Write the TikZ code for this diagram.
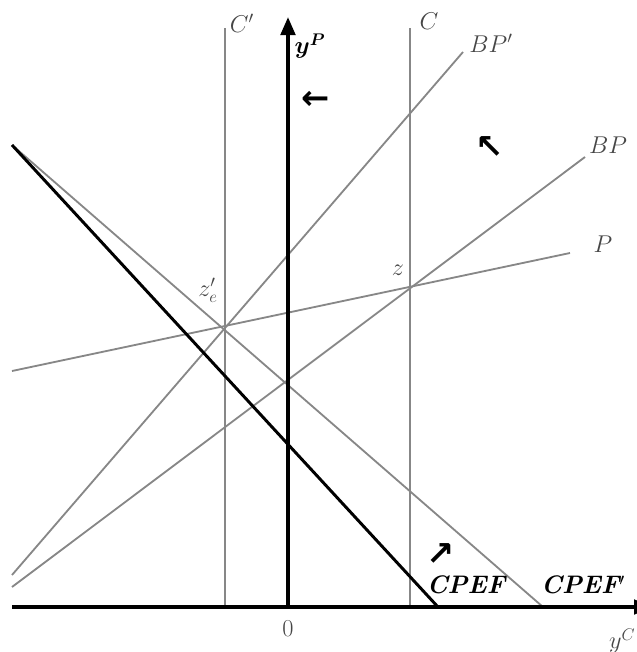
\documentclass[tikz,border=0pt]{standalone}
\usepackage{amsmath}
\usepackage{bm}
\usepackage{fontspec}
\newfontfamily\arrowfont{DejaVu Sans}
\usetikzlibrary{positioning, calc, arrows.meta}
\definecolor{clLine}  {RGB}{135,135,135}
\definecolor{clText}  {RGB}{ 70, 70, 70}
\definecolor{clAxis}  {RGB}{  0,  0,  0}
\tikzset{
  %% thin grey schedule
  curve/.style={draw=clLine, line width=1.3pt},
  %% axes
  axis/.style={
    draw=clAxis, line width=2.6pt,
    -{Triangle[length=0.45cm, width=0.36cm]}
  },
  %% consumption-possibility frontier (thick black)
  frontier/.style={draw=clAxis, line width=2.1pt},
  %% labels
  lbl/.style={font=\fontsize{18}{20}\selectfont, text=clText, inner sep=1pt},
  lblBold/.style={
    font=\fontsize{18}{20}\selectfont\bfseries\itshape, text=black, inner sep=1pt
  },
  dirArr/.style={font=\fontsize{24}{26}\selectfont\arrowfont\bfseries, text=black, inner sep=0pt}
}

\begin{document}
\begin{tikzpicture}[x=0.025cm, y=-0.025cm]

\useasboundingbox (0,0) rectangle (637,652);

%% ═══════════════════════════════════════════════════════════════
%%  END POINTS
%% ═══════════════════════════════════════════════════════════════

\coordinate (orig)   at (288,607);
\coordinate (xStart) at (12,607);
\coordinate (xEnd)   at (652,607);
\coordinate (yEnd)   at (288,17);

\coordinate (cpTop)  at (225,28);
\coordinate (cpBot)  at (225,607);
\coordinate (cTop)   at (410,28);
\coordinate (cBot)   at (410,607);

\coordinate (bppLo)  at (12,575);
\coordinate (bppHi)  at (463,52);
\coordinate (bpLo)   at (12,587);
\coordinate (bpHi)   at (585,157);
\coordinate (pLo)    at (12,371);
\coordinate (pHi)    at (570,253);

\coordinate (cpefTop)  at (12,145);
\coordinate (cpefBot)  at (438,607);
\coordinate (cpefpBot) at (543,607);

%% ═══════════════════════════════════════════════════════════════
%%  SCHEDULES
%% ═══════════════════════════════════════════════════════════════

\draw[curve] (cpTop) -- (cpBot);
\draw[curve] (cTop) -- (cBot);
\draw[curve] (bppLo) -- (bppHi);
\draw[curve] (bpLo) -- (bpHi);
\draw[curve] (pLo) -- (pHi);
\draw[curve] (cpefTop) -- (cpefpBot);
\draw[frontier] (cpefTop) -- (cpefBot);

%% ═══════════════════════════════════════════════════════════════
%%  AXES
%% ═══════════════════════════════════════════════════════════════

\draw[axis] (xStart) -- (xEnd);
\draw[axis] (orig) -- (yEnd);

%% ═══════════════════════════════════════════════════════════════
%%  LABELS
%% ═══════════════════════════════════════════════════════════════

\node[lbl] (lblCp)   at (242,23)  {$C'$};
\node[lbl, text=black] (lblYp) at (310,46) {$\bm{y^{P}}$};
\node[lbl] (lblC)    at (429,21)  {$C$};
\node[lbl] (lblBPp)  at (491,43)  {$BP'$};
\node[lbl] (lblBP)   at (608,145) {$BP$};
\node[lbl] (lblP)    at (603,244) {$P$};
\node[lbl] (lblZ)    at (398,270) {$z$};
\node[lbl] (lblZe)   at (208,290) {$z'_{e}$};
\node[lblBold] (lblCPEF)  at (466,585) {CPEF};
\node[lblBold] (lblCPEFp) at (583,585) {CPEF$'$};
\node[lbl] (lblO)    at (288,629) {$0$};
\node[lbl, anchor=east] (lblYc) at (637,641) {$y^{C}$};

%% direction arrows
\node[dirArr] (dirL)  at (316,100) {←};
\node[dirArr] (dirNW) at (490,148) {↖};
\node[dirArr] (dirNE) at (441,555) {↗};

\end{tikzpicture}
\end{document}
